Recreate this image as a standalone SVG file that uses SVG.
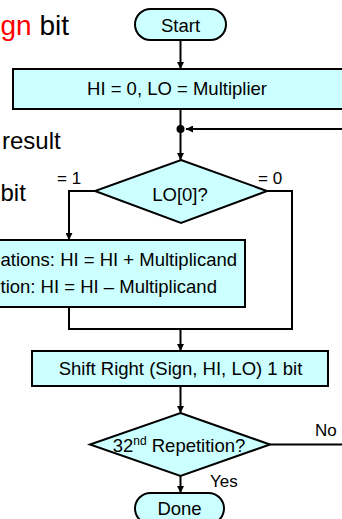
<svg xmlns="http://www.w3.org/2000/svg" width="342" height="519" viewBox="0 0 342 519">
<defs>
<marker id="ah" viewBox="0 0 10 10" refX="10" refY="5" markerWidth="7" markerHeight="7" markerUnits="userSpaceOnUse" orient="auto">
<path d="M0,0 L10,5 L0,10 z" fill="#000"/>
</marker>
</defs>
<style>
.shape{fill:#CCFFFF;stroke:#000;stroke-width:2}
.t{font-family:"Liberation Sans",Arial,sans-serif;font-size:18.5px;fill:#000}
.lbl{font-family:"Liberation Sans",Arial,sans-serif;font-size:17px;fill:#000}
.side{font-family:"Liberation Sans",Arial,sans-serif;fill:#000}
.c{fill:none;stroke:#000;stroke-width:2}
.ca{fill:none;stroke:#000;stroke-width:2;marker-end:url(#ah)}
</style>
<rect width="342" height="519" fill="#fff"/>
<g id="sidetext">
<text class="side" x="0.5" y="35" font-size="28"><tspan fill="#FF0000">gn</tspan> bit</text>
<text class="side" x="2" y="149" font-size="24">result</text>
<text class="side" x="0.5" y="201" font-size="24">bit</text>
</g>
<g id="connectors">
<line class="ca" x1="180.5" y1="40" x2="180.5" y2="69"/>
<line class="c" x1="180.5" y1="109" x2="180.5" y2="129"/>
<line class="ca" x1="343" y1="129" x2="186" y2="129"/>
<circle cx="180.5" cy="129" r="4" fill="#000"/>
<line class="ca" x1="180.5" y1="129" x2="180.5" y2="160"/>
<polyline class="ca" points="95,191 69,191 69,240"/>
<polyline class="c" points="267,191 292,191 292,329 69,329 69,307"/>
<line class="ca" x1="180.5" y1="329" x2="180.5" y2="351"/>
<line class="ca" x1="180.5" y1="386" x2="180.5" y2="413"/>
<line class="c" x1="270" y1="444.5" x2="343" y2="444.5"/>
<line class="ca" x1="180.5" y1="476" x2="180.5" y2="493"/>
<text class="lbl" x="57" y="184">= 1</text>
<text class="lbl" x="258" y="184">= 0</text>
<text class="lbl" x="315" y="436" font-size="18">No</text>
<text class="lbl" x="210" y="487" font-size="18">Yes</text>
</g>
<g id="start">
<rect class="shape" x="135" y="9" width="91" height="31" rx="15.5"/>
<text class="t" x="180.5" y="32" text-anchor="middle">Start</text>
</g>
<g id="init">
<rect class="shape" x="13" y="69" width="331" height="40"/>
<text class="t" x="177" y="95" text-anchor="middle">HI = 0, LO = Multiplier</text>
</g>
<g id="test">
<polygon class="shape" points="181,160 267,191 181,223 95,191"/>
<text class="t" x="180" y="201" text-anchor="middle">LO[0]?</text>
</g>
<g id="add">
<rect class="shape" x="-10" y="240" width="255" height="67"/>
<text class="t" x="0.5" y="266" font-size="18.2">ations: HI = HI + Multiplicand</text>
<text class="t" x="0.5" y="293" font-size="18.2">tion: HI = HI – Multiplicand</text>
</g>
<g id="shift">
<rect class="shape" x="32" y="351" width="296" height="35"/>
<text class="t" x="180.5" y="375" text-anchor="middle">Shift Right (Sign, HI, LO) 1 bit</text>
</g>
<g id="rep">
<polygon class="shape" points="180.5,413 270,444.5 180.5,476 90,444.5"/>
<text class="t" x="179" y="452" text-anchor="middle">32<tspan font-size="12" dy="-7">nd</tspan><tspan dy="7"> Repetition?</tspan></text>
</g>
<g id="done">
<rect class="shape" x="135" y="493" width="89" height="31" rx="15.5"/>
<text class="t" x="179.5" y="515" text-anchor="middle">Done</text>
</g>
</svg>
